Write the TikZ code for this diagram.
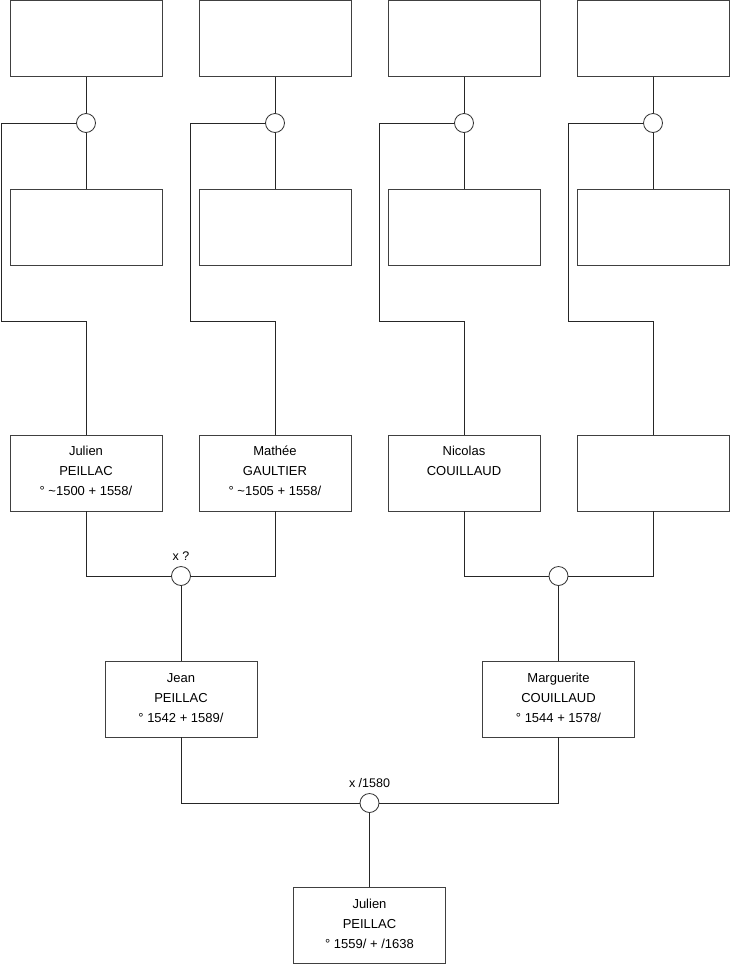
\documentclass[tikz,border=0pt]{standalone}
\usepackage{fontspec}
\setmainfont{Liberation Sans}
\usetikzlibrary{positioning,calc}
\tikzset{
  blk/.style  = {rectangle, draw=black!75, line width=0.8pt, fill=white,
                 minimum width=152pt, minimum height=76pt, inner sep=0pt},
  txt/.style  = {align=center, inner sep=0pt, font=\fontsize{13}{20}\selectfont},
  cpl/.style  = {circle, draw=black!80, line width=0.8pt, fill=white,
                 minimum size=19pt, inner sep=0pt},
  lbl/.style  = {inner sep=0pt, font=\fontsize{12.5}{15}\selectfont},
  ln/.style   = {draw=black!85, line width=0.8pt},
}
\begin{document}
\begin{tikzpicture}[x=1pt, y=-1pt]
  \useasboundingbox (0,0) rectangle (740,975);
  % great-grandparents
  \node[blk] (t1) at (86,38.5) {};
  \node[blk] (t2) at (275,38.5) {};
  \node[blk] (t3) at (464,38.5) {};
  \node[blk] (t4) at (653,38.5) {};
  \node[blk] (m1) at (86,227) {};
  \node[blk] (m2) at (275,227) {};
  \node[blk] (m3) at (464,227) {};
  \node[blk] (m4) at (653,227) {};
  % grandparents
  \node[blk] (g1) at (86,473) {};
  \node[blk] (g2) at (275,473) {};
  \node[blk] (g3) at (464,473) {};
  \node[blk] (g4) at (653,473) {};
  \node[txt, below=11.5pt of g1.north] (g1t) {Julien\\PEILLAC\\° \textasciitilde1500 + 1558/};
  \node[txt, below=11.5pt of g2.north] (g2t) {Mathée\\GAULTIER\\° \textasciitilde1505 + 1558/};
  \node[txt, below=11.5pt of g3.north] (g3t) {Nicolas\\COUILLAUD};
  % parents
  \node[blk] (jean) at (181,699) {};
  \node[blk] (marg) at (558.5,699) {};
  \node[txt, below=12.5pt of jean.north] (jeant) {Jean\\PEILLAC\\° 1542 + 1589/};
  \node[txt, below=12.5pt of marg.north] (margt) {Marguerite\\COUILLAUD\\° 1544 + 1578/};
  % subject
  \node[blk] (jul) at (369.5,925.5) {};
  \node[txt, below=11.5pt of jul.north] (jult) {Julien\\PEILLAC\\° 1559/ + /1638};
  % unions
  \node[cpl] (c1) at (86,123) {};
  \node[cpl] (c2) at (275,123) {};
  \node[cpl] (c3) at (464,123) {};
  \node[cpl] (c4) at (653,123) {};
  \node[cpl] (cA) at (181,576) {};
  \node[cpl] (cB) at (558.5,576) {};
  \node[cpl] (cC) at (369.5,803) {};
  \node[lbl, above=5pt of cA] (la) {x ?};
  \node[lbl, above=5pt of cC] (lc) {x /1580};
  \coordinate (k1) at (1.5,321);
  \coordinate (k2) at (190.5,321);
  \coordinate (k3) at (379,321);
  \coordinate (k4) at (568,321);
  \foreach \i in {1,2,3,4} {
    \draw[ln] (t\i.south) -- (c\i.north);
    \draw[ln] (c\i.south) -- (m\i.north);
    \draw[ln] (c\i.west) -| (k\i) -| (g\i.north);
  }
  \draw[ln] (g1.south) |- (cA.west);
  \draw[ln] (g2.south) |- (cA.east);
  \draw[ln] (g3.south) |- (cB.west);
  \draw[ln] (g4.south) |- (cB.east);
  \draw[ln] (cA.south) -- (jean.north);
  \draw[ln] (cB.south) -- (marg.north);
  \draw[ln] (jean.south) |- (cC.west);
  \draw[ln] (marg.south) |- (cC.east);
  \draw[ln] (cC.south) -- (jul.north);
\end{tikzpicture}
\end{document}
